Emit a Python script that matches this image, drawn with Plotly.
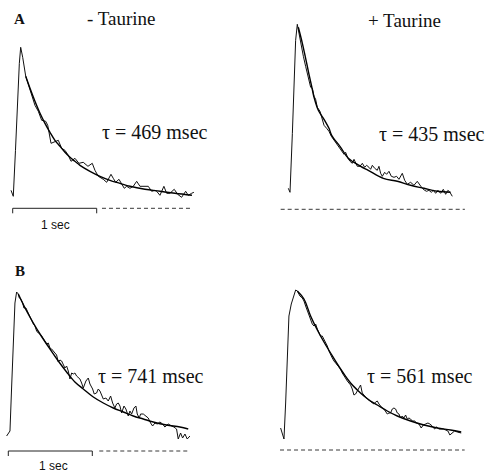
import plotly.graph_objects as go

# ---------------- data (time in ms, signal in a.u.) ----------------
a_minus_t = [-20, 7, 33, 55, 79, 95, 119, 155, 206, 265, 305, 345, 393, 417, 456, 503, 543, 583, 622, 662,
             694, 741, 789, 840, 896, 947, 979, 1019, 1078, 1119, 1170, 1197, 1226, 1265, 1297, 1328, 1357,
             1396, 1435, 1476, 1515, 1554, 1614, 1654, 1693, 1714, 1753, 1800, 1833, 1872, 1923, 1964, 2011,
             2059, 2090, 2130, 2157]
a_minus_y = [18, 12, 58, 108, 145, 161, 151, 132, 118, 103, 97, 88, 87, 83, 65, 67, 68, 60, 58, 53,
             47, 50, 45, 46, 42, 45, 38, 32, 29, 26, 34, 30, 26, 29, 24, 20, 22,
             20, 22, 27, 22, 22, 22, 17, 18, 17, 13, 22, 15, 15, 19, 14, 11,
             17, 13, 15, 16]
a_minus_fit_t = [155, 206, 265, 325, 384, 444, 503, 563, 622, 682, 741, 801, 920, 1039, 1158, 1277, 1396,
                 1574, 1753, 1932, 2134]
a_minus_fit_y = [132, 120, 107, 95, 85, 76, 68, 62, 56, 51, 47, 43, 37, 32, 28, 25, 22, 19, 17, 15, 13]

a_plus_t = [-14, 6, 34, 54, 73, 93, 105, 133, 165, 192, 220, 252, 272, 292, 311, 331, 363, 391, 411, 442,
            470, 498, 530, 569, 609, 649, 668, 696, 720, 748, 768, 787, 807, 839, 867, 895, 918, 946, 966,
            986, 1014, 1045, 1065, 1085, 1105, 1133, 1156, 1184, 1212, 1244, 1275, 1303, 1343, 1371, 1402,
            1442, 1482, 1521, 1553, 1581, 1609, 1632, 1660, 1688, 1712, 1740, 1767, 1799, 1831, 1859, 1886,
            1910, 1938]
a_plus_y = [21, 17, 76, 126, 169, 185, 179, 166, 153, 143, 134, 122, 121, 113, 110, 102, 98, 89, 84, 81,
            78, 73, 69, 64, 59, 55, 57, 51, 48, 46, 50, 46, 43, 43, 46, 42, 44, 42, 40,
            44, 41, 39, 43, 36, 33, 37, 35, 38, 33, 32, 33, 30, 36, 29, 25,
            27, 24, 28, 24, 21, 19, 18, 19, 17, 19, 16, 19, 16, 20, 15, 19,
            17, 13]
a_plus_fit_t = [105, 153, 192, 232, 264, 292, 343, 411, 470, 502, 609, 700, 847, 938, 1117, 1283,
                1442, 1601, 1759, 1918]
a_plus_fit_y = [182, 166, 151, 135, 123, 112, 99, 90, 81, 74, 62, 51, 43, 39, 31, 28, 24, 21, 18, 17]

b_minus_t = [-20, 0, 20, 40, 60, 79, 99, 119, 131, 147, 171, 186, 210, 226, 250, 278, 298, 317, 337, 357,
             377, 397, 417, 436, 456, 476, 496, 516, 536, 555, 575, 595, 615, 635, 655, 674, 694, 714,
             734, 754, 774, 793, 813, 833, 853, 873, 893, 924, 952, 972, 1004, 1023, 1051, 1071, 1091,
             1131, 1162, 1190, 1218, 1242, 1269, 1289, 1309, 1329, 1349, 1377, 1400, 1428, 1448, 1468,
             1496, 1519, 1535, 1559, 1575, 1607, 1638, 1666, 1694, 1718, 1745, 1773, 1805, 1837, 1864,
             1904, 1944, 1972, 2003, 2023, 2051, 2075, 2103, 2130, 2162]
b_minus_y = [15, 18, 20, 65, 115, 148, 159, 157, 153, 152, 148, 143, 143, 140, 137, 132, 127, 125, 120, 118,
             117, 115, 112, 109, 107, 108, 103, 102, 100, 98, 96, 89, 91, 90, 87, 83, 85, 80,
             72, 78, 77, 78, 75, 73, 72, 68, 63, 70, 73, 67, 62, 57, 58, 62, 60,
             52, 53, 50, 55, 48, 43, 47, 48, 45, 38, 45, 42, 35, 40, 37,
             43, 45, 37, 33, 37, 37, 35, 33, 28, 25, 28, 27, 29, 27, 24,
             27, 25, 24, 22, 12, 18, 13, 17, 12, 15]
b_minus_fit_t = [119, 218, 298, 377, 496, 595, 694, 793, 893, 1012, 1131, 1250, 1369, 1488, 1607, 1726,
                 1884, 2043, 2142]
b_minus_fit_y = [157, 140, 128, 117, 102, 90, 79, 69, 62, 54, 48, 43, 39, 35, 32, 29, 26, 24, 22]

b_plus_t = [-32, 8, 28, 48, 67, 95, 127, 147, 167, 198, 226, 246, 266, 286, 305, 325, 345, 365, 385, 405,
            424, 444, 464, 484, 504, 524, 543, 563, 583, 603, 623, 643, 662, 682, 702, 722, 742, 762,
            781, 801, 821, 841, 861, 881, 900, 920, 940, 960, 980, 1000, 1031, 1059, 1079, 1099, 1119,
            1139, 1158, 1178, 1198, 1218, 1238, 1258, 1277, 1297, 1317, 1337, 1357, 1377, 1396, 1416,
            1436, 1456, 1476, 1496, 1515, 1535, 1563, 1587, 1615, 1642, 1666, 1694, 1722, 1745, 1773,
            1801, 1825, 1853, 1880, 1904, 1932, 1960, 1983, 2011, 2039, 2071, 2103, 2118]
b_plus_y = [22, 11, 47, 97, 134, 146, 156, 160, 159, 154, 152, 149, 144, 139, 134, 131, 126, 124, 126, 121,
            117, 114, 114, 111, 107, 104, 99, 95, 92, 89, 87, 84, 82, 81, 77, 74, 71, 69,
            67, 65, 61, 55, 56, 59, 61, 65, 57, 55, 52, 51, 49, 47, 46, 48, 49,
            46, 44, 42, 41, 39, 36, 37, 37, 41, 42, 41, 37, 36, 32, 34,
            32, 35, 31, 32, 31, 29, 29, 27, 26, 22, 25, 26, 27, 26, 24,
            21, 23, 21, 21, 21, 20, 19, 15, 17, 19, 18, 17, 17]
b_plus_fit_t = [167, 246, 325, 405, 484, 563, 643, 722, 801, 881, 960, 1039, 1119, 1238, 1357, 1515,
                1674, 1833, 1991, 2118]
b_plus_fit_y = [159, 151, 134, 120, 108, 97, 86, 76, 67, 60, 54, 49, 45, 39, 34, 29, 25, 22, 20, 18]

baseline_a_minus = [1063, 2136]
baseline_a_plus = [-105, 2088]
baseline_b_minus = [1083, 2142]
baseline_b_plus = [-39, 2159]
scalebar_ms = [0, 1000]

tau_labels = ["τ = 469 msec", "τ = 435 msec", "τ = 741 msec", "τ = 561 msec"]

# ---------------- layout geometry ----------------
W, H = 488, 472
PX_PER_MS = 84.0 / 1000.0
PX_PER_AU = 1.0

def px_to_paper(X, Y):
    return X / W, 1 - Y / H

panels = [
    dict(xd=(0, 244), yd=(0, 236), x0=12.7, yb=208.3,
         t=a_minus_t, y=a_minus_y, ft=a_minus_fit_t, fy=a_minus_fit_y, base=baseline_a_minus, bar=True),
    dict(xd=(244, 488), yd=(0, 236), x0=289.5, yb=209.3,
         t=a_plus_t, y=a_plus_y, ft=a_plus_fit_t, fy=a_plus_fit_y, base=baseline_a_plus, bar=False),
    dict(xd=(0, 244), yd=(236, 472), x0=8.3, yb=451.0,
         t=b_minus_t, y=b_minus_y, ft=b_minus_fit_t, fy=b_minus_fit_y, base=baseline_b_minus, bar=True),
    dict(xd=(244, 488), yd=(236, 472), x0=283.3, yb=450.0,
         t=b_plus_t, y=b_plus_y, ft=b_plus_fit_t, fy=b_plus_fit_y, base=baseline_b_plus, bar=False),
]

fig = go.Figure()
layout_axes = {}
for i, p in enumerate(panels, start=1):
    xa = "x" if i == 1 else f"x{i}"
    ya = "y" if i == 1 else f"y{i}"
    xr = [(p["xd"][0] - p["x0"]) / PX_PER_MS, (p["xd"][1] - p["x0"]) / PX_PER_MS]
    yr = [(p["yb"] - p["yd"][1]) / PX_PER_AU, (p["yb"] - p["yd"][0]) / PX_PER_AU]
    common = dict(visible=False, showgrid=False, zeroline=False, fixedrange=True)
    layout_axes["xaxis" if i == 1 else f"xaxis{i}"] = dict(
        domain=[p["xd"][0] / W, p["xd"][1] / W], range=xr, anchor=ya, **common)
    layout_axes["yaxis" if i == 1 else f"yaxis{i}"] = dict(
        domain=[1 - p["yd"][1] / H, 1 - p["yd"][0] / H], range=yr, anchor=xa, **common)

    fig.add_trace(go.Scatter(x=p["t"], y=p["y"], mode="lines", xaxis=xa, yaxis=ya,
                             line=dict(color="#111111", width=1.0), hoverinfo="skip"))
    fig.add_trace(go.Scatter(x=p["ft"], y=p["fy"], mode="lines", xaxis=xa, yaxis=ya,
                             line=dict(color="#000000", width=1.4, shape="spline"), hoverinfo="skip"))
    fig.add_trace(go.Scatter(x=p["base"], y=[0, 0], mode="lines", xaxis=xa, yaxis=ya,
                             line=dict(color="#222222", width=0.9, dash="4px,3px"), hoverinfo="skip"))
    if p["bar"]:
        bx = [scalebar_ms[0], scalebar_ms[0], scalebar_ms[1], scalebar_ms[1]]
        by = [-5, 0, 0, -5]
        fig.add_trace(go.Scatter(x=bx, y=by, mode="lines", xaxis=xa, yaxis=ya,
                                 line=dict(color="#222222", width=1.0), hoverinfo="skip"))

SERIF = "Liberation Serif, Times New Roman, serif"
SANS = "Liberation Sans, Arial, sans-serif"

def ann(text, X, Y, size, family=SERIF, bold=False, color="#111"):
    px, py = px_to_paper(X, Y)
    return dict(text=f"<b>{text}</b>" if bold else text, x=px, y=py, xref="paper", yref="paper",
                xanchor="center", yanchor="middle", showarrow=False,
                font=dict(family=family, size=size, color=color))

annotations = [
    ann("A", 19, 19, 15, bold=True),
    ann("B", 20, 271, 15, bold=True),
    ann("- Taurine", 121, 18, 19),
    ann("+ Taurine", 404, 20, 19),
    ann(tau_labels[0], 154.5, 132, 20),
    ann(tau_labels[1], 432, 134, 20),
    ann(tau_labels[2], 151, 376, 20),
    ann(tau_labels[3], 420, 376, 20),
    ann("1 sec", 55, 225, 12, family=SANS),
    ann("1 sec", 53, 466, 12, family=SANS),
]

fig.update_layout(
    width=W, height=H, margin=dict(l=0, r=0, t=0, b=0),
    paper_bgcolor="white", plot_bgcolor="rgba(0,0,0,0)",
    showlegend=False, annotations=annotations, **layout_axes,
)

fig.write_html("out.html", config={"displayModeBar": False},
               post_script="document.body.style.margin='0';document.body.style.padding='0';"
                           "document.body.style.overflow='hidden';")
